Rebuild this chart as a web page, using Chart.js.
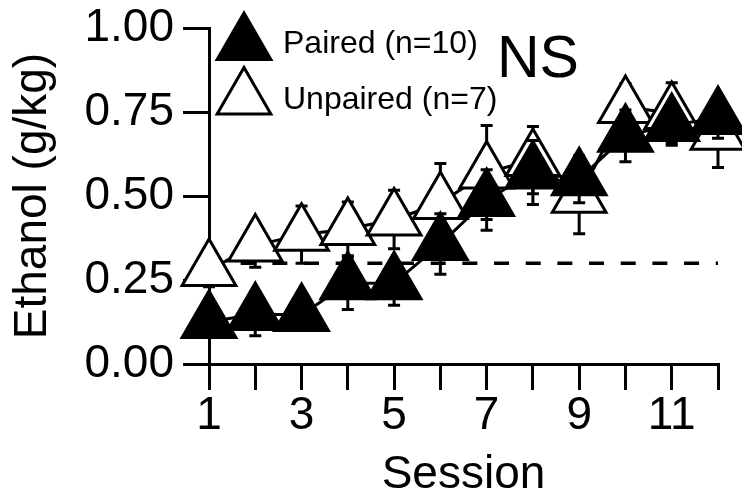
<!DOCTYPE html>
<html>
<head>
<meta charset="utf-8">
<script src="https://cdn.jsdelivr.net/npm/chart.js@4/dist/chart.umd.min.js"></script>
<style>
  html, body { margin: 0; padding: 0; background: #fff; }
  #wrap { width: 742px; height: 494px; }
</style>
</head>
<body>
<div id="wrap"><canvas id="c" width="742" height="494"></canvas></div>
<script>
// ---- data ----
const sessions    = [1, 2, 3, 4, 5, 6, 7, 8, 9, 10, 11, 12];
const xTickLabels = ['1', '', '3', '', '5', '', '7', '', '9', '', '11', ''];
const yTickLabels = ['0.00', '0.25', '0.50', '0.75', '1.00'];
const paired      = [0.125, 0.149, 0.146, 0.240, 0.240, 0.357, 0.488, 0.570, 0.550, 0.679, 0.711, 0.732];
const pairedSem   = [0.040, 0.065, 0.040, 0.078, 0.065, 0.090, 0.090, 0.095, 0.070, 0.077, 0.060, 0.060];
const unpaired    = [0.280, 0.353, 0.385, 0.402, 0.430, 0.479, 0.570, 0.607, 0.498, 0.765, 0.747, 0.685];
const unpairedSem = [0.050, 0.065, 0.085, 0.080, 0.087, 0.118, 0.140, 0.100, 0.110, 0.070, 0.090, 0.100];
const criterion   = [0.30, 0.30];
const criterionX  = [1, 12];
const legendLabels = ['Paired (n=10)', 'Unpaired (n=7)'];
const annotation  = 'NS';

const FONT = '"Liberation Sans", Arial, Helvetica, sans-serif';

const errorBars = {
  id: 'errorBars',
  beforeDatasetDraw(chart, args) {
    const ds = chart.data.datasets[args.index];
    if (!ds.sem) return;
    const ctx = chart.ctx, xs = chart.scales.x, ys = chart.scales.y;
    ctx.save();
    ctx.strokeStyle = '#000';
    ctx.lineWidth = 3;
    ds.data.forEach((p, i) => {
      const e = ds.sem[i];
      const px = xs.getPixelForValue(p.x);
      const yt = ys.getPixelForValue(p.y + e);
      const yb = ys.getPixelForValue(p.y - e);
      ctx.beginPath();
      ctx.moveTo(px, yt); ctx.lineTo(px, yb);
      ctx.moveTo(px - 6, yt); ctx.lineTo(px + 6, yt);
      ctx.moveTo(px - 6, yb); ctx.lineTo(px + 6, yb);
      ctx.stroke();
    });
    ctx.restore();
  }
};

function triangle(ctx, cx, cy, r, fill) {
  ctx.beginPath();
  ctx.moveTo(cx, cy - r);
  ctx.lineTo(cx + Math.sin(2 * Math.PI / 3) * r, cy + r / 2);
  ctx.lineTo(cx - Math.sin(2 * Math.PI / 3) * r, cy + r / 2);
  ctx.closePath();
  ctx.fillStyle = fill;
  ctx.fill();
  ctx.lineWidth = 3;
  ctx.strokeStyle = '#000';
  ctx.stroke();
}

const legendAndNote = {
  id: 'legendAndNote',
  afterDraw(chart) {
    const ctx = chart.ctx;
    ctx.save();
    triangle(ctx, 244, 44, 31, '#000');
    triangle(ctx, 244, 98.5, 31, '#fff');
    ctx.fillStyle = '#000';
    ctx.textAlign = 'left';
    ctx.textBaseline = 'middle';
    ctx.font = '32px ' + FONT;
    ctx.fillText(legendLabels[0], 283, 44.5);
    ctx.fillText(legendLabels[1], 283, 100);
    ctx.font = '59px ' + FONT;
    ctx.fillText(annotation, 497, 61);
    ctx.restore();
  }
};

const pts = (vals) => sessions.map((s, i) => ({ x: s, y: vals[i] }));

function noPad(scale) {
  scale.paddingLeft = 0;
  scale.paddingRight = 0;
  scale.paddingTop = 0;
  scale.paddingBottom = 0;
}

new Chart(document.getElementById('c'), {
  type: 'line',
  data: {
    datasets: [
      {
        label: legendLabels[0],
        data: pts(paired),
        sem: pairedSem,
        borderColor: '#000',
        borderWidth: 3,
        backgroundColor: '#000',
        pointStyle: 'triangle',
        pointRadius: 31,
        pointBorderWidth: 3,
        pointBackgroundColor: '#000',
        pointBorderColor: '#000',
        tension: 0,
        fill: false,
        clip: false
      },
      {
        label: legendLabels[1],
        data: pts(unpaired),
        sem: unpairedSem,
        borderColor: '#000',
        borderWidth: 3,
        backgroundColor: '#fff',
        pointStyle: 'triangle',
        pointRadius: 31,
        pointBorderWidth: 3,
        pointBackgroundColor: '#fff',
        pointBorderColor: '#000',
        tension: 0,
        fill: false,
        clip: false
      },
      {
        label: 'criterion',
        data: criterionX.map((x, i) => ({ x: x, y: criterion[i] })),
        borderColor: '#000',
        borderWidth: 3.5,
        borderDash: [15, 16.67],
        pointRadius: 0,
        fill: false,
        clip: false
      }
    ]
  },
  options: {
    responsive: false,
    animation: false,
    devicePixelRatio: 1,
    events: [],
    layout: { autoPadding: false, padding: { top: 28, right: 24, left: 0, bottom: 0 } },
    plugins: {
      legend: { display: false },
      tooltip: { enabled: false },
      title: { display: false }
    },
    scales: {
      x: {
        type: 'linear',
        min: 1,
        max: 12,
        afterFit(scale) { scale.height = 130; noPad(scale); },
        afterBuildTicks(scale) { scale.ticks = sessions.map(v => ({ value: v })); },
        ticks: {
          autoSkip: false,
          maxRotation: 0,
          padding: 3,
          color: '#000',
          font: { family: FONT, size: 46, lineHeight: 1 },
          callback: (v) => xTickLabels[sessions.indexOf(v)] ?? ''
        },
        grid: { drawOnChartArea: false, drawTicks: true, tickLength: 26, color: '#000', lineWidth: 3 },
        border: { display: true, color: '#000', width: 3 },
        title: {
          display: true,
          text: 'Session',
          color: '#000',
          padding: 0,
          font: { family: FONT, size: 46, lineHeight: 0.82 }
        }
      },
      y: {
        type: 'linear',
        min: 0,
        max: 1,
        afterFit(scale) { scale.width = 209; noPad(scale); },
        afterBuildTicks(scale) { scale.ticks = yTickLabels.map(t => ({ value: parseFloat(t) })); },
        ticks: {
          padding: 9,
          color: '#000',
          font: { family: FONT, size: 46, lineHeight: 1 },
          callback: (v) => yTickLabels.find(t => parseFloat(t) === v) ?? ''
        },
        grid: { drawOnChartArea: false, drawTicks: true, tickLength: 26, color: '#000', lineWidth: 3 },
        border: { display: true, color: '#000', width: 3 },
        title: {
          display: true,
          text: 'Ethanol (g/kg)',
          color: '#000',
          padding: { top: 10, bottom: 0 },
          font: { family: FONT, size: 46, lineHeight: 1 }
        }
      }
    }
  },
  plugins: [errorBars, legendAndNote]
});
</script>
</body>
</html>
